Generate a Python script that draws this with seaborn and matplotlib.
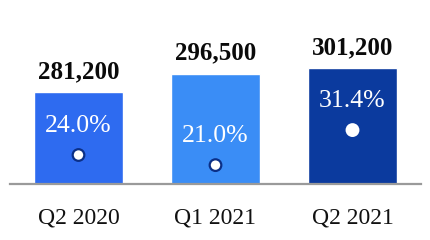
import matplotlib
matplotlib.use("Agg")
import matplotlib.pyplot as plt
import seaborn as sns
import pandas as pd

categories = ["Q2 2020", "Q1 2021", "Q2 2021"]
values = [281200, 296500, 301200]
value_labels = ["281,200", "296,500", "301,200"]
percents = [24.0, 21.0, 31.4]
percent_labels = ["24.0%", "21.0%", "31.4%"]
bar_colors = ["#2e6bf0", "#3a8df6", "#0b3a9e"]

sns.set_theme(style="white")
plt.rcParams["font.family"] = ["Liberation Serif", "DejaVu Serif"]

df = pd.DataFrame({"cat": categories, "val": values, "pct": percents})

fig = plt.figure(figsize=(4.3, 2.4), dpi=100)
ax = fig.add_axes([10 / 430, 56 / 240, 411 / 430, 184 / 240])
sns.barplot(data=df, x="cat", y="val", hue="cat", palette=bar_colors,
            width=0.645, saturation=1, legend=False, ax=ax)
ax.set_xlim(-0.5, 2.5)
ax.set_ylim(204500, 357800)
for s in ["top", "right", "left"]:
    ax.spines[s].set_visible(False)
ax.spines["bottom"].set_color("#9a9a9a")
ax.spines["bottom"].set_linewidth(1.6)
ax.set_yticks([])
ax.set_xlabel("")
ax.set_ylabel("")
ax.tick_params(axis="x", length=0, pad=17, labelsize=17, colors="#111111")

for i, (v, lab) in enumerate(zip(values, value_labels)):
    ax.annotate(lab, (i, v), xytext=(0, 10), textcoords="offset points",
                ha="center", va="baseline", fontsize=18, fontweight="bold",
                color="#0a0a0a")

ax2 = ax.twinx()
ax2.set_ylim(15.4, 70)
ax2.set_axis_off()
dot_edges = ["#0b2f86", "#0b2f86", "#ffffff"]
sns.scatterplot(data=df, x="cat", y="pct", ax=ax2, s=70, color="white",
                edgecolor=dot_edges, linewidth=1.6, zorder=5, legend=False)
ax2.set_xlim(-0.5, 2.5)
for i, (p, lab) in enumerate(zip(percents, percent_labels)):
    ax2.annotate(lab, (i, p), xytext=(0, 16.5), textcoords="offset points",
                 ha="center", va="baseline", fontsize=18.5, color="white")

fig.savefig("out.png", dpi=100)
